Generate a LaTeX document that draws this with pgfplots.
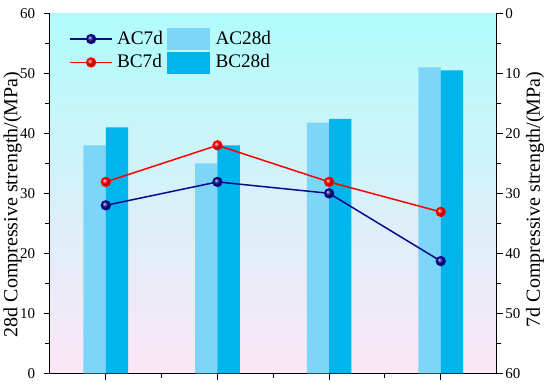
\documentclass[border=0pt]{standalone}
\usepackage{fontspec}
\setmainfont{Liberation Serif}
\usepackage{pgfplots}
\pgfplotsset{compat=1.18}
\definecolor{acbar}{RGB}{125,213,247}
\definecolor{bcbar}{RGB}{0,181,236}
\definecolor{acline}{RGB}{10,10,140}
\definecolor{bcline}{RGB}{255,0,0}
\definecolor{bgtop}{RGB}{176,252,252}
\definecolor{bgmid}{RGB}{238,248,254}
\definecolor{bgbot}{RGB}{253,230,246}
\pgfplotsset{
  lineleg/.style={legend image code/.code={\draw[mark repeat=2,mark phase=2,##1] plot coordinates {(0pt,0pt) (10.6pt,0pt) (21.2pt,0pt)};}},
  common/.style={
    at={(0pt,0pt)}, anchor=south west,
    scale only axis, width=223.3pt, height=180pt,
    xmin=-0.5, xmax=3.5, ymin=0, ymax=60,
    /pgf/number format/assume math mode=true,
    tick label style={font=\fontsize{7.5}{9}\selectfont},
    label style={font=\fontsize{9.2}{11}\selectfont, inner sep=0pt},
    tick align=outside,
    major tick length=3.2pt, minor tick length=2.4pt,
    every tick/.style={black, line width=0.5pt},
    axis line style={black, line width=0.5pt},
    ytick={0,10,...,60}, minor ytick={5,15,...,55},
  }
}
\begin{document}
\begin{tikzpicture}
\useasboundingbox (-25pt,-6.85pt) rectangle (250pt,186.65pt);
\begin{axis}[common, name=ax,
  axis x line*=bottom, axis y line*=left,
  xtick={0,1,2,3}, xticklabels={}, minor xtick={0.5,1.5,2.5},
  ylabel={28d Compressive strength/(MPa)},
  every axis y label/.style={at={(axis description cs:-0.084,0.469)}, rotate=90, anchor=center},
  yticklabel style={xshift=-0.7pt},
  axis background/.style={top color=bgtop, middle color=bgmid, bottom color=bgbot},
]
\addplot[ybar, bar width=0.2, bar shift=-0.1, fill=acbar, draw=none] coordinates {(0,38.0) (1,35.0) (2,41.8) (3,51.0)};
\addplot[ybar, bar width=0.2, bar shift=0.1, fill=bcbar, draw=none] coordinates {(0,41.0) (1,38.0) (2,42.4) (3,50.5)};
\end{axis}
\begin{axis}[common,
  axis x line=none, axis y line*=right, y dir=reverse,
  ylabel={7d Compressive strength/(MPa)},
  every axis y label/.style={at={(axis description cs:1.086,0.483)}, rotate=90, anchor=center},
  yticklabel style={xshift=-2.3pt},
  legend columns=2, transpose legend,
  legend cell align=left,
  legend style={draw=none, fill=none, at={(0.042,0.96)}, anchor=north west, inner sep=0pt,
    font=\fontsize{9.6}{11}\selectfont, row sep=0.8pt,
    nodes={inner sep=0.5pt},
    /tikz/column 1/.style={column sep=1.5pt},
    /tikz/column 2/.style={column sep=1.6pt},
    /tikz/column 3/.style={column sep=2.3pt}},
]
\addplot[color=acline, line width=0.75pt, mark=ball, mark size=2.2pt, mark options={ball color=acline}, lineleg]
  coordinates {(0,32.0) (1,28.1) (2,30.0) (3,41.3)};
\addlegendentry{AC7d}
\addplot[color=bcline, line width=0.75pt, mark=ball, mark size=2.2pt, mark options={ball color=bcline}, lineleg]
  coordinates {(0,28.1) (1,22.0) (2,28.1) (3,33.1)};
\addlegendentry{BC7d}
\addlegendimage{legend image code/.code={\fill[acbar] (0pt,-5.25pt) rectangle (21pt,5.25pt);}}
\addlegendentry{AC28d}
\addlegendimage{legend image code/.code={\fill[bcbar] (0pt,-5.25pt) rectangle (21pt,5.25pt);}}
\addlegendentry{BC28d}
\end{axis}
\end{tikzpicture}
\end{document}
